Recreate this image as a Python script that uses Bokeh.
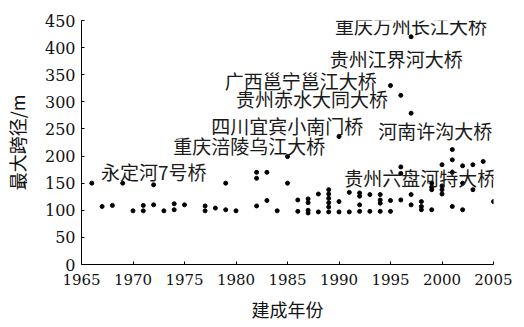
from bokeh.plotting import figure
from bokeh.models import ColumnDataSource, FixedTicker, Range1d, LabelSet
from bokeh.core.properties import value
from bokeh.embed import file_html
from bokeh.resources import INLINE

# ---- data: (year built, max span in m) ----
years = [1966, 1967, 1968, 1969, 1970, 1971, 1971, 1972, 1972, 1973,
         1974, 1974, 1975, 1977, 1977, 1978, 1979, 1979, 1980,
         1982, 1982, 1982, 1983, 1983, 1984, 1985, 1985,
         1986, 1986, 1987, 1987, 1987, 1987, 1988, 1988,
         1989, 1989, 1989, 1989, 1989, 1989,
         1990, 1990, 1990, 1991, 1991,
         1992, 1992, 1992, 1992, 1993, 1993,
         1994, 1994, 1994, 1994, 1995, 1995, 1995,
         1996, 1996, 1996, 1996, 1997, 1997, 1997, 1997,
         1998, 1998, 1998, 1999, 1999, 1999, 1999,
         2000, 2000, 2000, 2000, 2001, 2001, 2001, 2001,
         2002, 2002, 2002, 2003, 2003, 2004, 2005]
spans = [150, 107, 109, 150, 99, 109, 99, 147, 110, 99,
         112, 101, 110, 108, 99, 104, 150, 101, 99,
         170, 159, 108, 170, 118, 99, 199, 150,
         119, 98, 121, 114, 100, 95, 130, 97,
         138, 130, 122, 114, 106, 97,
         236, 116, 97, 133, 97,
         132, 126, 110, 98, 129, 98,
         129, 119, 113, 98, 330, 118, 98,
         312, 180, 168, 119, 420, 279, 129, 110,
         116, 107, 101, 150, 143, 138, 101,
         184, 145, 138, 130, 212, 193, 170, 107,
         182, 150, 101, 184, 138, 190, 116]

# ---- annotations ----
labels = ["重庆万州长江大桥", "贵州江界河大桥", "广西邕宁邕江大桥", "贵州赤水大同大桥",
          "四川宜宾小南门桥", "河南许沟大桥", "重庆涪陵乌江大桥", "永定河7号桥",
          "贵州六盘河特大桥"]
label_year = [1989.6, 1989.1, 1978.9, 1980.0, 1977.6, 1993.8, 1973.9, 1966.9, 1990.5]
label_span = [441, 380, 340, 307, 257, 248, 220, 171, 160]

x_ticks = [1965, 1970, 1975, 1980, 1985, 1990, 1995, 2000, 2005]
y_ticks = [0, 50, 100, 150, 200, 250, 300, 350, 400, 450]

p = figure(frame_width=412, frame_height=244, output_backend="svg", toolbar_location=None,
           x_range=Range1d(1965, 2005), y_range=Range1d(0, 450),
           min_border_left=77, min_border_right=19, min_border_top=20,
           min_border_bottom=0)
p.outline_line_color = None
p.xgrid.visible = False
p.ygrid.visible = False
p.background_fill_color = "white"

src = ColumnDataSource(dict(x=years, y=spans))
p.scatter("x", "y", source=src, size=4, color="black")

lsrc = ColumnDataSource(dict(x=label_year, y=label_span, t=labels))
p.add_layout(LabelSet(x="x", y="y", text="t", source=lsrc,
                      text_font=value("Noto Sans CJK SC"),
                      text_font_size="19px", text_align="left",
                      text_baseline="middle", text_color="#1a1a1a"))

for ax in (p.xaxis[0], p.yaxis[0]):
    ax.axis_line_color = "black"
    ax.axis_line_width = 1
    ax.major_tick_in = 3
    ax.major_tick_out = 0
    ax.minor_tick_line_color = None
    ax.major_tick_line_color = "black"
    ax.major_label_text_color = "#111111"
    ax.major_label_text_font = "DejaVu Serif"
    ax.major_label_text_font_style = "normal"
    ax.axis_label_text_font = "Noto Sans CJK SC"
    ax.axis_label_text_font_style = "normal"
    ax.axis_label_text_color = "#111111"
    ax.axis_label_text_font_size = "18px"

p.xaxis.ticker = FixedTicker(ticks=x_ticks)
p.yaxis.ticker = FixedTicker(ticks=y_ticks)
p.xaxis.major_label_text_font_size = "15px"
p.yaxis.major_label_text_font_size = "16px"
p.xaxis.major_label_standoff = 9
p.yaxis.major_label_standoff = 6
p.xaxis.axis_label = "建成年份"
p.yaxis.axis_label = "最大跨径/m"
p.xaxis.axis_label_standoff = 8
p.yaxis.axis_label_standoff = 12

open("out.html", "w").write(file_html(p, INLINE))
